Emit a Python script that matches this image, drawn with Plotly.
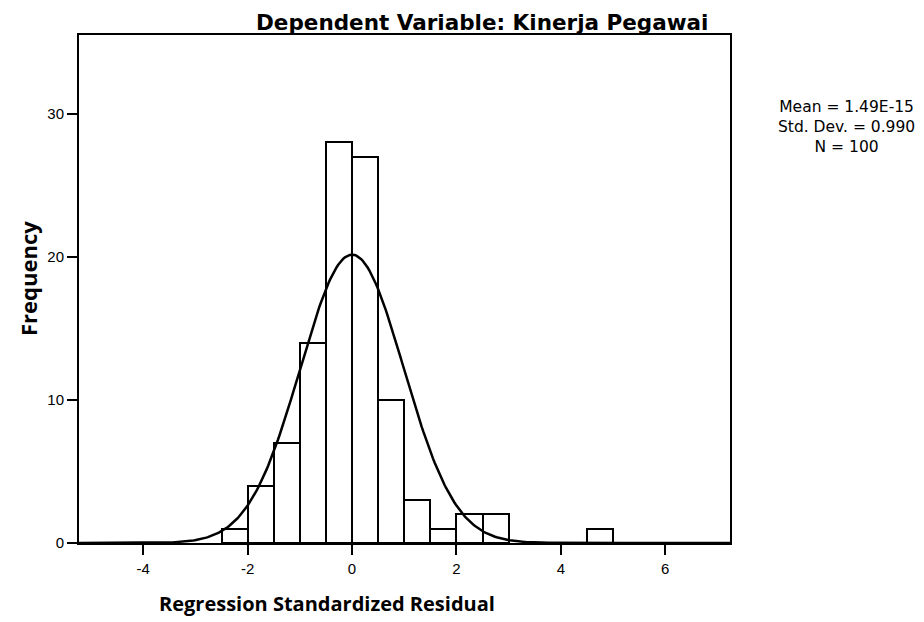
import numpy as np
import plotly.graph_objects as go

# ---- data ----
bin_left = [-2.5, -2.0, -1.5, -1.0, -0.5, 0.0, 0.5, 1.0, 1.5, 2.0, 2.5, 4.5]
counts   = [1, 4, 7, 14, 28, 27, 10, 3, 1, 2, 2, 1]
bin_width = 0.5

mean_val = 1.49e-15
std_val = 0.990
n_val = 100

stats_lines = ["Mean = 1.49E-15", "Std. Dev. = 0.990", "N = 100"]

x_tickvals = [-4, -2, 0, 2, 4, 6]
x_ticktext = ["-4", "-2", "0", "2", "4", "6"]
y_tickvals = [0, 10, 20, 30]
y_ticktext = ["0", "10", "20", "30"]

x_range = [-5.23, 7.24]
y_range = [0, 35.5]

# ---- derived ----
centers = [b + bin_width / 2 for b in bin_left]
xs = np.linspace(x_range[0], x_range[1], 400)
curve = n_val * bin_width / (std_val * np.sqrt(2 * np.pi)) * np.exp(-0.5 * ((xs - mean_val) / std_val) ** 2)

# plot area in figure pixels
L, R, T, B = 71, 722, 27, 535
W, H = 924, 622


def px(x):
    return (x - L) / (R - L)


def py(y):
    return (B - y) / (B - T)


fig = go.Figure()
fig.add_trace(go.Bar(
    x=centers, y=counts, width=bin_width,
    marker=dict(color="white", line=dict(color="black", width=2)),
    showlegend=False, hoverinfo="x+y",
))
fig.add_trace(go.Scatter(
    x=xs, y=curve, mode="lines",
    line=dict(color="black", width=2.5),
    showlegend=False, hoverinfo="skip",
))

font_tick = dict(family="Liberation Sans, Arial, sans-serif", size=15, color="black")

annotations = [
    dict(text="<b>Dependent Variable: Kinerja Pegawai</b>",
         xref="paper", yref="paper", x=px(474), y=py(0),
         xanchor="center", yanchor="top", showarrow=False,
         font=dict(family="DejaVu Sans, sans-serif", size=21.5, color="black")),
    dict(text="<b>Regression Standardized Residual</b>",
         xref="paper", yref="paper", x=px(319), y=py(595),
         xanchor="center", yanchor="middle", showarrow=False,
         font=dict(family="Open Sans, sans-serif", size=20, color="black")),
    dict(text="<b>Frequency</b>", textangle=-90,
         xref="paper", yref="paper", x=px(20), y=py(271),
         xanchor="center", yanchor="middle", showarrow=False,
         font=dict(family="Open Sans, sans-serif", size=22, color="black")),
    dict(text="<br>".join(stats_lines),
         xref="paper", yref="paper", x=px(838), y=py(119),
         xanchor="center", yanchor="middle", showarrow=False, align="center",
         font=dict(family="DejaVu Sans, sans-serif", size=15.5, color="black")),
]

fig.update_layout(
    width=W, height=H,
    margin=dict(l=L, r=W - R, t=T, b=H - B),
    paper_bgcolor="white", plot_bgcolor="white",
    bargap=0,
    xaxis=dict(
        range=x_range, tickvals=x_tickvals, ticktext=x_ticktext,
        showgrid=False, zeroline=False,
        showline=True, linecolor="black", linewidth=2, mirror=True,
        ticks="outside", ticklen=10, tickwidth=2, tickcolor="black",
        ticklabelstandoff=1,
        tickfont=font_tick,
    ),
    yaxis=dict(
        range=y_range, tickvals=y_tickvals, ticktext=y_ticktext,
        showgrid=False, zeroline=False,
        showline=True, linecolor="black", linewidth=2, mirror=True,
        ticks="outside", ticklen=10, tickwidth=2, tickcolor="black",
        ticklabelstandoff=0,
        tickfont=font_tick,
    ),
    annotations=annotations,
)

fig.write_html("out.html")
